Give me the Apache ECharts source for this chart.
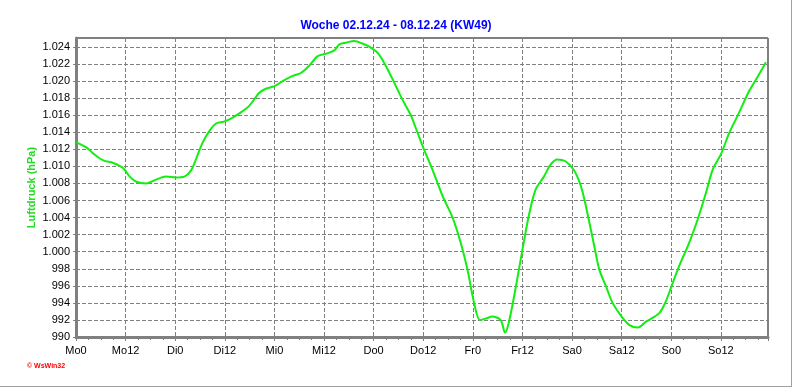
<!DOCTYPE html>
<html>
<head>
<meta charset="utf-8">
<script src="https://cdn.jsdelivr.net/npm/echarts@6/dist/echarts.min.js"></script>
<style>
html,body{margin:0;padding:0;background:#fff;}
#main{width:792px;height:387px;}
</style>
</head>
<body>
<div id="main"></div>
<script>
// Luftdruck Woche KW49
var tickLabels = ['Mo0','Mo12','Di0','Di12','Mi0','Mi12','Do0','Do12','Fr0','Fr12','Sa0','Sa12','So0','So12'];
var hours = [0,2.6,4.2,6.6,9,11.4,13,14.6,17,19.4,21.8,24.2,26.2,27.8,29,30.6,32.2,33.8,35.8,37.8,39.8,41.9,44.3,45.9,48,50,52.4,54.4,56.4,58.4,60.4,62.5,63.7,65.3,67.3,69.3,71.4,73,74.6,76.6,79,81,82.2,84,86.25,88.7,91.1,93.1,94.7,96.3,97.7,99.1,100.7,102.7,103.8,104.7,106.3,108,109.6,111.2,113.2,114.8,116.4,118.4,120.4,122,123,124.2,125.4,126.6,128.2,129.8,132,133.9,135.9,137.9,141.1,142.7,144.1,145.9,148.3,150.4,152.4,154,156,158,160.4,162.8,164.9,166.9];
var druck = [1012.85,1012.2,1011.5,1010.7,1010.4,1009.8,1008.8,1008.2,1008.0,1008.45,1008.8,1008.7,1008.8,1009.5,1010.8,1012.75,1014.1,1015.0,1015.25,1015.7,1016.3,1017.1,1018.6,1019.1,1019.4,1020.0,1020.6,1020.95,1021.8,1022.9,1023.2,1023.6,1024.3,1024.5,1024.7,1024.4,1023.9,1023.3,1022.1,1020.2,1017.8,1016.0,1014.5,1012.2,1009.6,1006.5,1004.0,1001.0,997.9,994.0,992.0,992.15,992.4,992.0,990.5,991.7,995.6,1000.25,1004.35,1007.3,1008.8,1010.2,1010.8,1010.6,1009.6,1007.9,1006.1,1003.4,1000.6,997.9,995.95,994.0,992.4,991.4,991.1,991.8,992.8,994.2,996.0,998.3,1001.0,1003.8,1006.9,1009.6,1011.4,1013.9,1016.3,1018.8,1020.5,1022.2];

var punkte = [];
for (var i = 0; i < hours.length; i++) {
    punkte.push([hours[i], druck[i]]);
}

var myChart = echarts.init(document.getElementById('main'));
var fontName = '"Liberation Sans", Arial, sans-serif';

option = {
    animation: false,
    backgroundColor: '#fff',
    title: {
        text: 'Woche 02.12.24 - 08.12.24 (KW49)',
        left: 'center',
        top: 15,
        textStyle: { color: '#0000ff', fontSize: 12, fontWeight: 'bold', fontFamily: fontName }
    },
    grid: {
        left: 76, right: 24, top: 38, bottom: 50,
        show: true, borderColor: '#000', borderWidth: 1
    },
    xAxis: {
        type: 'value',
        min: 0, max: 167.4, interval: 12,
        axisLine: { show: true, onZero: false, lineStyle: { color: '#808080', width: 3 } },
        axisTick: { show: true, length: 4, lineStyle: { color: '#808080' } },
        minorTick: { show: true, splitNumber: 4, length: 3, lineStyle: { color: '#808080' } },
        splitLine: { show: true, lineStyle: { color: '#808080', type: [4, 2], width: 1 } },
        axisLabel: {
            color: '#000', fontSize: 11, fontFamily: fontName, margin: 8,
            showMaxLabel: false,
            formatter: function (v) {
                var k = Math.round(v / 12);
                return tickLabels[k] || '';
            }
        }
    },
    yAxis: {
        type: 'value',
        min: 990, max: 1025.05, interval: 2,
        name: 'Luftdruck (hPa)',
        nameLocation: 'middle',
        nameGap: 39,
        nameMoveOverlap: false,
        nameTextStyle: { color: '#22dd22', fontSize: 11, fontWeight: 'bold', fontFamily: fontName },
        axisLine: { show: true, onZero: false, lineStyle: { color: '#808080', width: 3 } },
        axisTick: { show: true, length: 3, lineStyle: { color: '#808080' } },
        splitLine: { show: true, lineStyle: { color: '#808080', type: [4, 2], width: 1 } },
        axisLabel: {
            color: '#000', fontSize: 11, fontFamily: fontName, margin: 6,
            showMaxLabel: false,
            formatter: function (v) {
                if (v > 1024.5) return '';
                if (v >= 1000) {
                    var r = String(Math.round(v - 1000));
                    while (r.length < 3) r = '0' + r;
                    return '1.' + r;
                }
                return String(v);
            }
        }
    },
    series: [
        {
            name: 'Luftdruck',
            type: 'line',
            data: punkte,
            symbol: 'none',
            smooth: 0.3,
            lineStyle: { color: '#11ee11', width: 2 }
        }
    ],
    graphic: [
        { type: 'text', left: 27, top: 363,
          style: { text: '\u00a9 WsWin32', fill: '#ff0000', font: 'bold 7px ' + fontName } },
        { type: 'line', shape: { x1: 0, y1: 386.5, x2: 792, y2: 386.5 }, style: { stroke: '#a0a0a0', lineWidth: 1 } },
        { type: 'line', shape: { x1: 791.5, y1: 0, x2: 791.5, y2: 387 }, style: { stroke: '#a0a0a0', lineWidth: 1 } }
    ]
};
myChart.setOption(option);
</script>
</body>
</html>
